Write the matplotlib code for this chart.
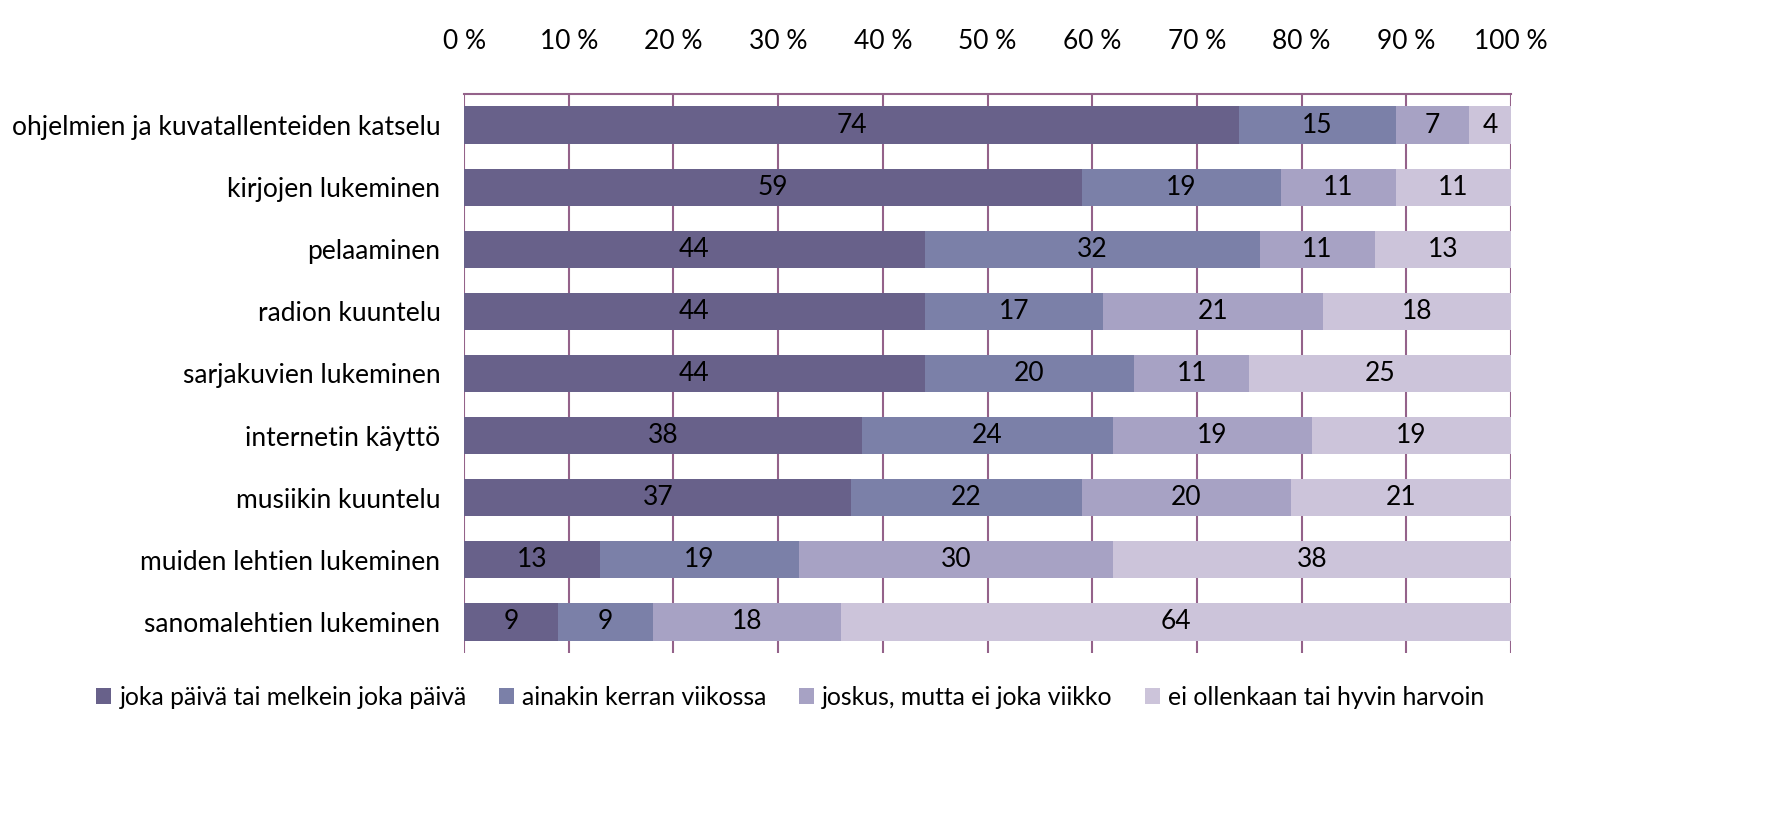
import numpy as np
import matplotlib
matplotlib.use('Agg')
import matplotlib.pyplot as plt
from matplotlib.patches import Patch

plt.rcParams['font.family'] = ['Lato', 'DejaVu Sans']

categories = [
    'ohjelmien ja kuvatallenteiden katselu',
    'kirjojen lukeminen',
    'pelaaminen',
    'radion kuuntelu',
    'sarjakuvien lukeminen',
    'internetin käyttö',
    'musiikin kuuntelu',
    'muiden lehtien lukeminen',
    'sanomalehtien lukeminen',
]
series_names = [
    'joka päivä tai melkein joka päivä',
    'ainakin kerran viikossa',
    'joskus, mutta ei joka viikko',
    'ei ollenkaan tai hyvin harvoin',
]
daily = [74, 59, 44, 44, 44, 38, 37, 13, 9]
weekly = [15, 19, 32, 17, 20, 24, 22, 19, 9]
sometimes = [7, 11, 11, 21, 11, 19, 20, 30, 18]
rarely = [4, 11, 13, 18, 25, 19, 21, 38, 64]
tick_values = list(range(0, 101, 10))

colors = ['#68618A', '#7B80A8', '#A7A2C4', '#CCC4DA']
grid_color = '#94628A'
fs = 19

fig = plt.figure(figsize=(17.72, 8.31), dpi=100)
ax = fig.add_axes([0.2619, 0.2142, 0.5908, 0.6727])

y = np.arange(len(categories))
left = np.zeros(len(categories))
for name, vals, col in zip(series_names, [daily, weekly, sometimes, rarely], colors):
    vals = np.array(vals, dtype=float)
    ax.barh(y, vals, left=left, height=0.6, color=col, label=name, zorder=2)
    for yi, l, v in zip(y, left, vals):
        ax.text(l + v / 2, yi, f'{int(v)}', ha='center', va='center',
                fontsize=fs, color='black', zorder=3)
    left += vals

ax.set_xlim(0, 100)
ax.set_ylim(len(categories) - 0.5, -0.5)
ax.set_yticks(y)
ax.set_yticklabels(categories, fontsize=fs)
ax.set_xticks(tick_values)
ax.set_xticklabels([f'{v} %' for v in tick_values], fontsize=fs)
ax.xaxis.tick_top()
ax.tick_params(axis='x', length=0, pad=29)
ax.tick_params(axis='y', length=0, pad=17)

for v in tick_values:
    ax.axvline(v, color=grid_color, linewidth=1.5, zorder=1)
for side in ['right', 'bottom', 'left']:
    ax.spines[side].set_visible(False)
ax.spines['top'].set_color(grid_color)
ax.spines['top'].set_linewidth(1.5)

handles = [Patch(facecolor=c, edgecolor='none') for c in colors]
fig.legend(handles, series_names, loc='center', bbox_to_anchor=(0.446, 0.161),
           ncol=4, frameon=False, fontsize=17.8, handlelength=0.6,
           handleheight=0.6, handletextpad=0.35, columnspacing=1.3)

fig.savefig('out.png', dpi=100)
